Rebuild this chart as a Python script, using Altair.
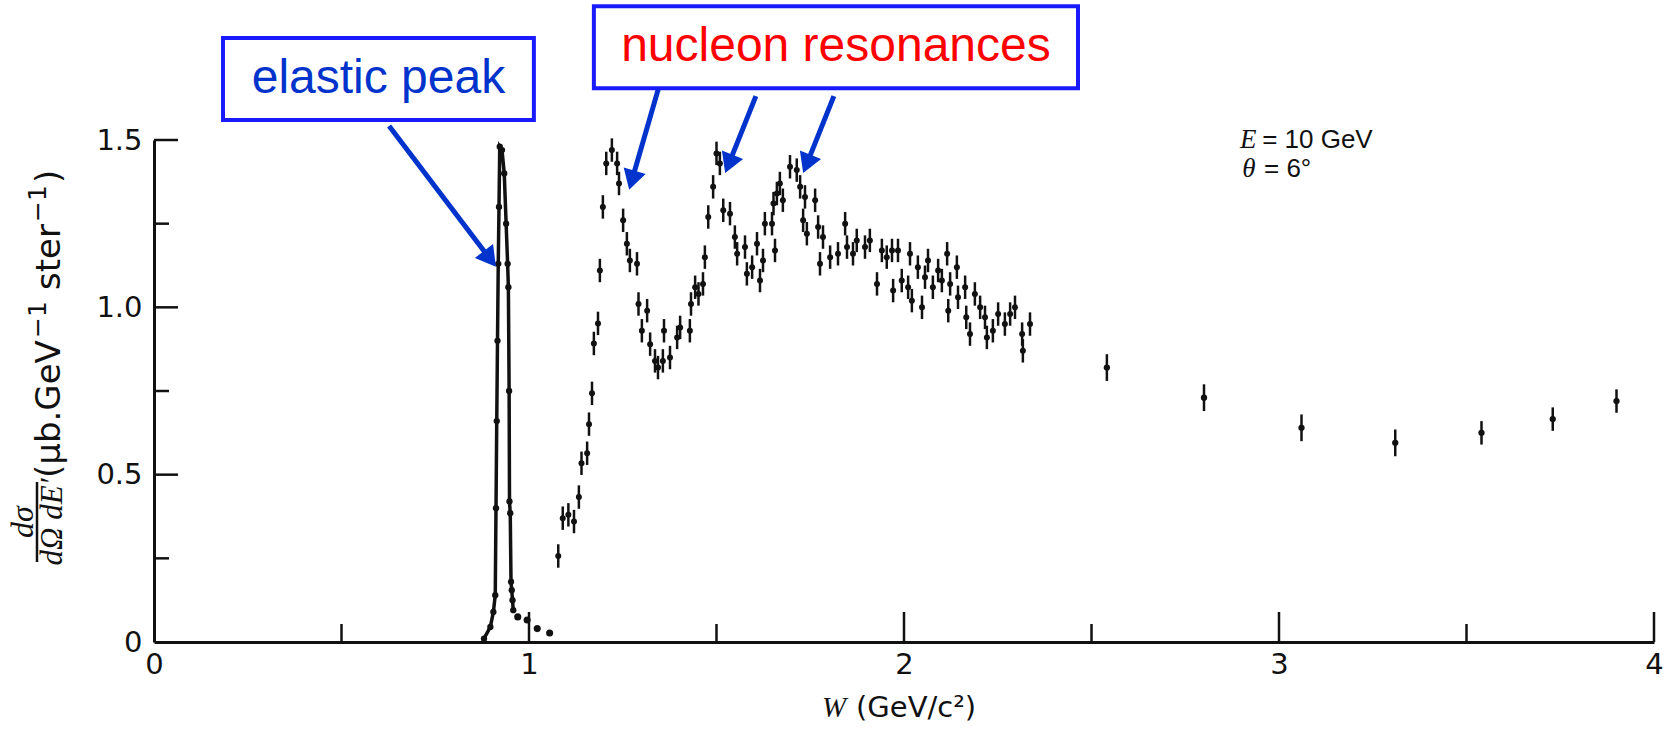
import math
import altair as alt
import pandas as pd

# ---------------- data ----------------
# nucleon-resonance region (W in GeV/c^2, cross section in ub GeV^-1 sr^-1)
RES_W = [1.078, 1.09, 1.105, 1.12, 1.133, 1.14, 1.155, 1.16, 1.168, 1.173,
         1.184, 1.189, 1.197, 1.206, 1.221, 1.235, 1.24, 1.251, 1.261, 1.269,
         1.288, 1.292, 1.301, 1.315, 1.323, 1.336, 1.344, 1.357, 1.36, 1.376,
         1.395, 1.403, 1.429, 1.432, 1.443, 1.452, 1.464, 1.469, 1.478, 1.491,
         1.50, 1.509, 1.518, 1.536, 1.549, 1.555, 1.576, 1.581, 1.595, 1.608,
         1.616, 1.624, 1.629, 1.648, 1.652, 1.656, 1.661, 1.669, 1.677, 1.696,
         1.714, 1.723, 1.731, 1.736, 1.741, 1.763, 1.771, 1.776, 1.784, 1.803,
         1.824, 1.843, 1.848, 1.864, 1.874, 1.896, 1.909, 1.928, 1.941, 1.954,
         1.968, 1.971, 1.984, 1.994, 2.011, 2.016, 2.021, 2.037, 2.048, 2.056,
         2.064, 2.077, 2.091, 2.101, 2.115, 2.118, 2.123, 2.141, 2.144, 2.163,
         2.166, 2.176, 2.189, 2.203, 2.216, 2.221, 2.237, 2.251, 2.269, 2.283,
         2.296, 2.315, 2.317, 2.336]
RES_Y = [0.257, 0.37, 0.38, 0.36, 0.433, 0.534, 0.564, 0.651, 0.743, 0.892,
         0.952, 1.11, 1.30, 1.43, 1.47, 1.43, 1.37, 1.26, 1.19, 1.14,
         1.13, 1.01, 0.93, 0.99, 0.89, 0.84, 0.82, 0.84, 0.93, 0.85,
         0.91, 0.94, 0.93, 1.01, 1.06, 1.04, 1.07, 1.15, 1.27, 1.36,
         1.46, 1.43, 1.29, 1.28, 1.21, 1.16, 1.18, 1.10, 1.12, 1.19,
         1.08, 1.14, 1.25, 1.25, 1.31, 1.17, 1.34, 1.37, 1.32, 1.42,
         1.41, 1.36, 1.26, 1.33, 1.22, 1.32, 1.24, 1.13, 1.21, 1.15,
         1.16, 1.25, 1.18, 1.16, 1.20, 1.18, 1.20, 1.07, 1.17, 1.15,
         1.17, 1.05, 1.17, 1.08, 1.06, 1.16, 1.02, 1.12, 1.00, 1.09,
         1.14, 1.06, 1.11, 1.08, 1.16, 0.99, 1.07, 1.12, 1.03, 1.06,
         0.97, 0.92, 1.04, 1.00, 0.97, 0.91, 0.93, 0.98, 0.95, 0.98,
         1.00, 0.92, 0.87, 0.95]
RES_ERR = 0.035

# deep-inelastic points at higher W
DIS_W = [2.541, 2.80, 3.06, 3.31, 3.54, 3.73, 3.90]
DIS_Y = [0.82, 0.73, 0.64, 0.595, 0.625, 0.666, 0.72]
DIS_ERR = [0.04, 0.04, 0.04, 0.04, 0.035, 0.035, 0.035]

# elastic peak: connected rising/falling edge, then separate tail points
EL_W = [0.880, 0.897, 0.905, 0.910, 0.912, 0.914, 0.916, 0.918, 0.920, 0.922,
        0.928, 0.934, 0.939, 0.943, 0.945, 0.947, 0.948, 0.950, 0.952, 0.954,
        0.956, 0.958]
EL_Y = [0.010, 0.045, 0.090, 0.140, 0.400, 0.660, 0.900, 1.130, 1.300, 1.480,
        1.470, 1.400, 1.250, 1.130, 1.060, 0.750, 0.420, 0.385, 0.180, 0.155,
        0.125, 0.095]
TAIL_W = [0.970, 0.995, 1.022, 1.055]
TAIL_Y = [0.075, 0.066, 0.040, 0.027]

# axes
X_LABELS = [0, 1, 2, 3, 4]
X_MAJOR = [1, 2, 3, 4]
X_MINOR = [0.5, 1.5, 2.5, 3.5]
Y_LABELS = [0, 0.5, 1.0, 1.5]
Y_MAJOR = [0.5, 1.0, 1.5]
Y_MINOR = [0.25, 0.75, 1.25]

# annotations (in data units)
BOX_TEXT = ["elastic peak", "nucleon resonances"]
BOX_COLOR = ["#0033cc", "#ff0000"]
BOX_W1 = [0.184, 1.173]
BOX_W2 = [1.013, 2.464]
BOX_Y1 = [1.560, 1.655]
BOX_Y2 = [1.805, 1.900]

ARROW_W1 = [0.627, 1.347, 1.605, 1.813]
ARROW_Y1 = [1.542, 1.661, 1.631, 1.631]
ARROW_W2 = [0.912, 1.267, 1.523, 1.731]
ARROW_Y2 = [1.121, 1.351, 1.401, 1.401]

INFO_SYM = ["E", "\u03b8"]
INFO_REST = ["= 10 GeV", "= 6\u00b0"]
INFO_W_SYM = [2.896, 2.902]
INFO_W_REST = [2.955, 2.960]
INFO_Y = [1.476, 1.389]

# ---------------- chart ----------------
PW, PH = 1500, 502
XD, YD = [0, 4], [0, 1.5]
SX, SY = PW / (XD[1] - XD[0]), PH / (YD[1] - YD[0])
FONT = "Liberation Sans"
SCANFONT = "DejaVu Sans"
INK = "#111111"

AX_X = alt.Axis(values=X_LABELS, format="d", title=None, grid=False, ticks=False,
                domainColor=INK, domainWidth=3, labelFont=SCANFONT, labelFontSize=29,
                labelColor=INK, labelPadding=8, labelFlush=False, labelOverlap=False)
AX_Y = alt.Axis(values=Y_LABELS, labelExpr="datum.value == 0 ? '0' : format(datum.value, '.1f')",
                title=None, grid=False, ticks=False, domainColor=INK, domainWidth=3,
                labelFont=SCANFONT, labelFontSize=29, labelColor=INK, labelPadding=12,
                labelFlush=False, labelOverlap=False)
XS = alt.Scale(domain=XD, nice=False, zero=False)
YS = alt.Scale(domain=YD, nice=False, zero=False)


def X(f):
    return alt.X(f, type="quantitative", scale=XS, axis=AX_X)


def Y(f):
    return alt.Y(f, type="quantitative", scale=YS, axis=AX_Y)


res = pd.DataFrame({"W": RES_W, "Y": RES_Y})
res["lo"] = res["Y"] - RES_ERR
res["hi"] = res["Y"] + RES_ERR
dis = pd.DataFrame({"W": DIS_W, "Y": DIS_Y, "E": DIS_ERR})
dis["lo"] = dis["Y"] - dis["E"]
dis["hi"] = dis["Y"] + dis["E"]
el = pd.DataFrame({"W": EL_W, "Y": EL_Y, "o": list(range(len(EL_W)))})
tail = pd.DataFrame({"W": TAIL_W, "Y": TAIL_Y})

axes = alt.Chart(pd.DataFrame({"W": X_LABELS[:4], "Y": Y_LABELS})).mark_point(opacity=0).encode(
    x=X("W"), y=Y("Y"))

xmaj = alt.Chart(pd.DataFrame({"W": X_MAJOR})).mark_rule(color=INK, strokeWidth=2.5).encode(
    x=X("W"), y=alt.value(PH), y2=alt.value(PH - 30))
xmin = alt.Chart(pd.DataFrame({"W": X_MINOR})).mark_rule(color=INK, strokeWidth=2.5).encode(
    x=X("W"), y=alt.value(PH), y2=alt.value(PH - 18))
ymaj = alt.Chart(pd.DataFrame({"Y": Y_MAJOR})).mark_rule(color=INK, strokeWidth=2.5).encode(
    y=Y("Y"), x=alt.value(0), x2=alt.value(24))
ymin = alt.Chart(pd.DataFrame({"Y": Y_MINOR})).mark_rule(color=INK, strokeWidth=2.5).encode(
    y=Y("Y"), x=alt.value(0), x2=alt.value(15))

res_err = alt.Chart(res).mark_rule(color=INK, strokeWidth=2.5).encode(x=X("W"), y=Y("lo"), y2="hi")
res_pts = alt.Chart(res).mark_circle(color=INK, size=36, opacity=1).encode(x=X("W"), y=Y("Y"))
dis_err = alt.Chart(dis).mark_rule(color=INK, strokeWidth=2.5).encode(x=X("W"), y=Y("lo"), y2="hi")
dis_pts = alt.Chart(dis).mark_circle(color=INK, size=40, opacity=1).encode(x=X("W"), y=Y("Y"))

el_line = alt.Chart(el).mark_line(color=INK, strokeWidth=3.5).encode(x=X("W"), y=Y("Y"), order="o:Q")
el_pts = alt.Chart(el).mark_circle(color=INK, size=40, opacity=1).encode(x=X("W"), y=Y("Y"))
tail_pts = alt.Chart(tail).mark_circle(color=INK, size=50, opacity=1).encode(x=X("W"), y=Y("Y"))

# annotation boxes
boxes = pd.DataFrame({"t": BOX_TEXT, "c": BOX_COLOR, "w1": BOX_W1, "w2": BOX_W2, "y1": BOX_Y1, "y2": BOX_Y2})
boxes["wc"] = (boxes["w1"] + boxes["w2"]) / 2
boxes["yc"] = (boxes["y1"] + boxes["y2"]) / 2
box_rect = alt.Chart(boxes).mark_rect(fill="white", stroke="#1a1aff", strokeWidth=4).encode(
    x=X("w1"), x2="w2", y=Y("y1"), y2="y2")
box_text = alt.Chart(boxes).mark_text(font=FONT, fontSize=48, align="center", baseline="middle").encode(
    x=X("wc"), y=Y("yc"), text="t:N", color=alt.Color("c:N", scale=None))

# arrows
arr = pd.DataFrame({"w1": ARROW_W1, "y1": ARROW_Y1, "w2": ARROW_W2, "y2": ARROW_Y2})
dxp = (arr["w2"] - arr["w1"]) * SX
dyp = -(arr["y2"] - arr["y1"]) * SY
ln = (dxp ** 2 + dyp ** 2) ** 0.5
ux, uy = dxp / ln, dyp / ln
HEAD = 10
arr["wc"] = arr["w2"] - HEAD * ux / SX
arr["yc"] = arr["y2"] + HEAD * uy / SY
arr["ang"] = [math.degrees(math.atan2(a, -b)) % 360 for a, b in zip(dxp, dyp)]
ARROW_COLOR = "#0033cc"
arrow_line = alt.Chart(arr).mark_rule(color=ARROW_COLOR, strokeWidth=5).encode(
    x=X("w1"), y=Y("y1"), x2="wc", y2="yc")
arrow_head = alt.Chart(arr).mark_point(shape="triangle-up", filled=True, color=ARROW_COLOR,
                                       size=520, opacity=1).encode(
    x=X("wc"), y=Y("yc"), angle=alt.Angle("ang:Q", scale=None))

# E and theta
info = pd.DataFrame({"s": INFO_SYM, "r": INFO_REST, "ws": INFO_W_SYM, "wr": INFO_W_REST, "y": INFO_Y})
info_sym = alt.Chart(info).mark_text(font="Liberation Serif", fontStyle="italic", fontSize=27,
                                     align="left", baseline="alphabetic", color=INK).encode(
    x=X("ws"), y=Y("y"), text="s:N")
info_rest = alt.Chart(info).mark_text(font=FONT, fontSize=26, align="left", baseline="alphabetic",
                                      color=INK).encode(x=X("wr"), y=Y("y"), text="r:N")


def ptext(t, x, y, size, font=SCANFONT, style="normal", angle=0, align="center", baseline="middle"):
    kw = dict(font=font, fontStyle=style, fontSize=size, align=align, baseline=baseline, color=INK)
    if angle:
        kw["angle"] = angle
    return alt.Chart(pd.DataFrame({"t": [t]})).mark_text(**kw).encode(
        x=alt.value(x), y=alt.value(y), text="t:N")


# y-axis title: fraction + units, written bottom-to-top
ytitle = [
    ptext("d\u03c3", -131, 382, 32, font="Liberation Serif", style="italic", angle=270),
    alt.Chart(pd.DataFrame({"t": [1]})).mark_rule(color=INK, strokeWidth=2.5).encode(
        x=alt.value(-117), y=alt.value(342), y2=alt.value(422)),
    ptext("d\u03a9 dE\u2032", -101, 382, 31, font="Liberation Serif", style="italic", angle=270),
    ptext("(\u03bcb.GeV", -94, 338, 34, angle=270, align="left", baseline="alphabetic"),
    ptext("\u22121", -108, 198, 25, angle=270, align="left", baseline="alphabetic"),
    ptext("ster", -94, 150, 34, angle=270, align="left", baseline="alphabetic"),
    ptext("\u22121", -108, 82, 25, angle=270, align="left", baseline="alphabetic"),
    ptext(")", -94, 43, 34, angle=270, align="left", baseline="alphabetic"),
]

xtitle = [
    ptext("W", 680, 568, 29, font="Liberation Serif", style="italic"),
    ptext("(GeV/c\u00b2)", 702, 568, 29, align="left"),
]

chart = alt.layer(
    axes, xmaj, xmin, ymaj, ymin,
    el_line, el_pts, tail_pts, res_err, res_pts, dis_err, dis_pts,
    arrow_line, arrow_head, box_rect, box_text, info_sym, info_rest,
    *ytitle, *xtitle,
).properties(
    width=PW, height=PH,
    autosize=alt.AutoSizeParams(type="none"),
    padding={"left": 154, "top": 140, "right": 20, "bottom": 88},
    background="white",
).configure_view(stroke=None)

chart.save("out.html", embed_options={"renderer": "svg", "actions": False})
